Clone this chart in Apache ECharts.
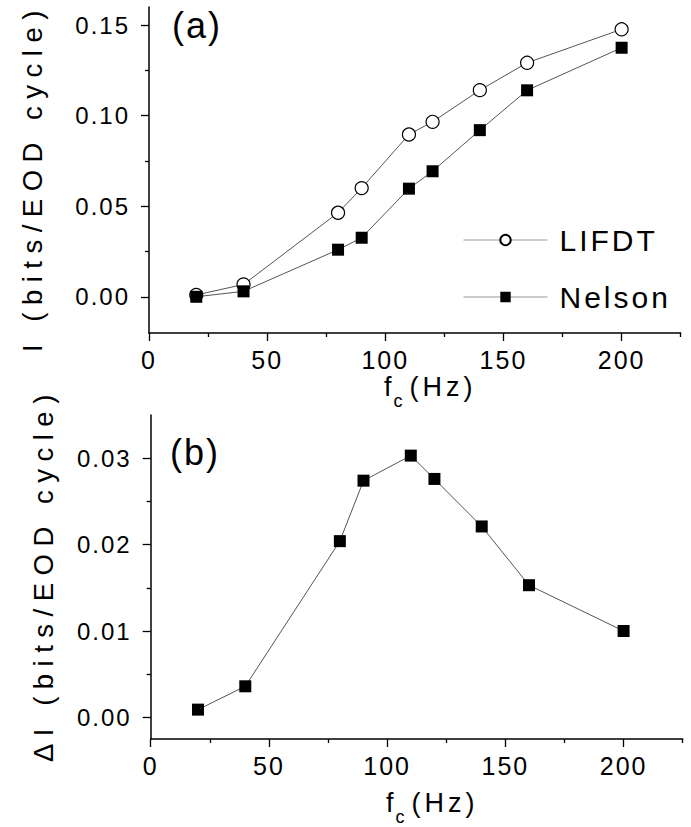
<!DOCTYPE html>
<html>
<head>
<meta charset="utf-8">
<script src="https://cdn.jsdelivr.net/npm/echarts@6.0.0/dist/echarts.min.js"></script>
<style>
  html, body { margin: 0; padding: 0; background: #fff; }
  #chart { width: 691px; height: 827px; }
</style>
</head>
<body>
<div id="chart"></div>
<script>
// Cut-off frequency (Hz)
const fc = [20, 40, 80, 90, 110, 120, 140, 160, 200];
// Information per EOD cycle, panel (a)
const lifdt  = [0.0010, 0.0068, 0.0464, 0.0600, 0.0896, 0.0966, 0.1141, 0.1292, 0.1477];
const nelson = [0.0000, 0.0030, 0.0260, 0.0326, 0.0597, 0.0693, 0.0920, 0.1140, 0.1375];
// Difference between the two models, panel (b)
const deltaI = [0.0009, 0.0036, 0.0204, 0.0274, 0.0303, 0.0276, 0.0221, 0.0153, 0.0100];

// Tick positions
const xMajor = [0, 50, 100, 150, 200];
const xMinor = [25, 75, 125, 175, 225];
const yMajorA = [0, 0.05, 0.10, 0.15];
const yMinorA = [0.025, 0.075, 0.125];
const yMajorB = [0, 0.01, 0.02, 0.03];
const yMinorB = [0.005, 0.015, 0.025];

const FONT = 'Liberation Sans';
const pairs = ys => fc.map((x, i) => [x, ys[i]]);

const axisLine = { show: true, onZero: false, lineStyle: { color: '#000', width: 1.5 } };

function xAxes(gridIndex, nameGap) {
  return [
    {
      gridIndex, type: 'value', position: 'bottom', min: 0, max: 225,
      axisLine,
      splitLine: { show: false },
      axisTick: { show: true, length: 8, customValues: xMajor, lineStyle: { color: '#000', width: 1.3 } },
      axisLabel: { customValues: xMajor, fontFamily: FONT, fontSize: 25, color: '#000', margin: 14 },
      name: '{f|f}{c|c}{h|(Hz)}',
      nameLocation: 'middle',
      nameGap,
      nameTextStyle: {
        padding: [0, 0, 0, 24],
        rich: {
          f: { fontFamily: FONT, fontSize: 27, color: '#000', lineHeight: 46, verticalAlign: 'middle', padding: [0, 2, 0, 0] },
          c: { fontFamily: FONT, fontSize: 18, color: '#000', lineHeight: 19, verticalAlign: 'bottom', padding: [0, 2, 0, 0] },
          h: { fontFamily: FONT, fontSize: 27, color: '#000', lineHeight: 46, verticalAlign: 'middle', padding: [0, 0, 0, 12] }
        }
      }
    },
    {
      gridIndex, type: 'value', position: 'bottom', min: 0, max: 225,
      axisLine: { show: false, onZero: false },
      splitLine: { show: false },
      axisTick: { show: true, length: 4, customValues: xMinor, lineStyle: { color: '#000', width: 1.3 } },
      axisLabel: { show: false }
    }
  ];
}

function yAxes(gridIndex, min, max, major, minor) {
  return [
    {
      gridIndex, type: 'value', position: 'left', min, max,
      axisLine,
      splitLine: { show: false },
      axisTick: { show: true, length: 8, customValues: major, lineStyle: { color: '#000', width: 1.3 } },
      axisLabel: {
        customValues: major, fontFamily: FONT, fontSize: 24, color: '#000', margin: 19,
        formatter: v => v.toFixed(2)
      }
    },
    {
      gridIndex, type: 'value', position: 'left', min, max,
      axisLine: { show: false, onZero: false },
      splitLine: { show: false },
      axisTick: { show: true, length: 4, customValues: minor, lineStyle: { color: '#000', width: 1.3 } },
      axisLabel: { show: false }
    }
  ];
}

// Vertical axis title, read bottom-to-top, starting from its lower end
function yTitle(text, x, yStart) {
  return {
    type: 'text', x, y: yStart, rotation: Math.PI / 2,
    style: { text, font: '27.5px "Liberation Sans"', fill: '#000', align: 'left', verticalAlign: 'middle' }
  };
}

const lineStyle = { color: '#555', width: 1 };

const option = {
  animation: false,
  backgroundColor: '#fff',
  grid: [
    { left: 149, top: 7, width: 531.7, height: 326 },
    { left: 150.7, top: 415, width: 532, height: 327.3 }
  ],
  xAxis: [...xAxes(0, 31), ...xAxes(1, 41)],
  yAxis: [
    ...yAxes(0, -0.02, 0.16, yMajorA, yMinorA),
    ...yAxes(1, -0.0025, 0.035, yMajorB, yMinorB)
  ],
  legend: {
    data: ['LIFDT', 'Nelson'],
    orient: 'vertical',
    left: 458,
    top: 220,
    itemWidth: 84,
    itemHeight: 13,
    itemGap: 27,
    lineStyle: { color: '#999', width: 1 },
    textStyle: { fontFamily: FONT, fontSize: 30, color: '#000', padding: [0, 0, 0, 7] },
    selectedMode: false
  },
  graphic: [
    { type: 'text', left: 172, top: 7, style: { text: '(a)', font: '36px "Liberation Sans"', fill: '#000' } },
    { type: 'text', left: 170, top: 434, style: { text: '(b)', font: '36px "Liberation Sans"', fill: '#000' } },
    yTitle('I (bits/EOD cycle)', 32, 352),
    yTitle('\u0394I (bits/EOD cycle)', 43, 762)
  ],
  series: [
    {
      name: 'LIFDT', type: 'line', xAxisIndex: 0, yAxisIndex: 0,
      data: pairs(lifdt),
      symbol: 'circle', symbolSize: 13,
      itemStyle: { color: '#fff', borderColor: '#000', borderWidth: 1.2 },
      lineStyle
    },
    {
      name: 'Nelson', type: 'line', xAxisIndex: 0, yAxisIndex: 0,
      data: pairs(nelson),
      symbol: 'rect', symbolSize: 12,
      itemStyle: { color: '#000' },
      lineStyle
    },
    {
      name: 'Delta', type: 'line', xAxisIndex: 2, yAxisIndex: 2,
      data: pairs(deltaI),
      symbol: 'rect', symbolSize: 12,
      itemStyle: { color: '#000' },
      lineStyle
    }
  ]
};

const dom = document.getElementById('chart');
const chart = echarts.init(dom, null, { renderer: 'svg' });
chart.setOption(option);

// Wide tracking of the lettering
function applyTracking() {
  dom.querySelectorAll('text').forEach(t => {
    const s = t.textContent || '';
    let ls = 2;
    if (s.indexOf('bits') >= 0) ls = 7.5;
    else if (s === 'LIFDT' || s === 'Nelson') ls = 3;
    else if (s.indexOf('Hz') >= 0) ls = 4;
    t.style.letterSpacing = ls + 'px';
  });
}
chart.getZr().refreshImmediately();
applyTracking();
chart.on('finished', applyTracking);
</script>
</body>
</html>
